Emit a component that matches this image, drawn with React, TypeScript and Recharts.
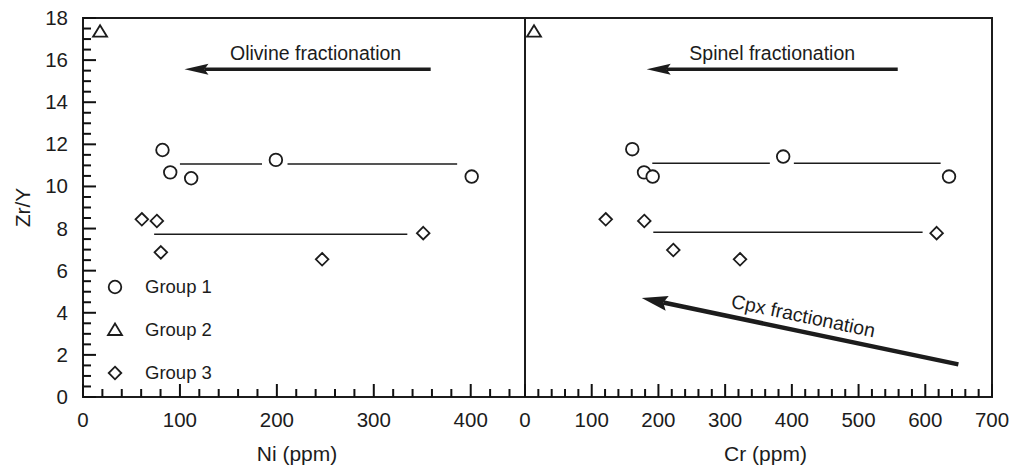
import React from 'react'
import {
  ScatterChart,
  Scatter,
  XAxis,
  YAxis,
  ReferenceLine,
  ReferenceArea,
  Legend,
} from 'recharts'

const INK = '#1c1c1c'
const FONT = '"Liberation Sans", Arial, Helvetica, sans-serif'

// --- Ni panel (left) ---
const group1Ni = [
  { x: 82, y: 11.73 },
  { x: 90, y: 10.67 },
  { x: 111.6, y: 10.39 },
  { x: 199, y: 11.26 },
  { x: 401, y: 10.47 },
]
const group2Ni = [{ x: 17.6, y: 17.35 }]
const group3Ni = [
  { x: 60.7, y: 8.44 },
  { x: 76.2, y: 8.36 },
  { x: 80.3, y: 6.87 },
  { x: 246.7, y: 6.54 },
  { x: 351, y: 7.78 },
]
const meanLinesNi = [
  [{ x: 100, y: 11.07 }, { x: 184.7, y: 11.07 }],
  [{ x: 211, y: 11.07 }, { x: 386, y: 11.07 }],
  [{ x: 73.4, y: 7.73 }, { x: 334.6, y: 7.73 }],
]
const olivineArrow = [{ x: 358.7, y: 15.57 }, { x: 104.7, y: 15.57 }]

// --- Cr panel (right) ---
const group1Cr = [
  { x: 160.8, y: 11.77 },
  { x: 178.4, y: 10.67 },
  { x: 191.4, y: 10.47 },
  { x: 387, y: 11.42 },
  { x: 635.6, y: 10.47 },
]
const group2Cr = [{ x: 13.5, y: 17.35 }]
const group3Cr = [
  { x: 121, y: 8.44 },
  { x: 178.8, y: 8.36 },
  { x: 222.3, y: 6.98 },
  { x: 322.3, y: 6.54 },
  { x: 617, y: 7.78 },
]
const meanLinesCr = [
  [{ x: 190.8, y: 11.1 }, { x: 367, y: 11.1 }],
  [{ x: 403, y: 11.1 }, { x: 623, y: 11.1 }],
  [{ x: 192.3, y: 7.82 }, { x: 596, y: 7.82 }],
]
const spinelArrow = [{ x: 558.7, y: 15.57 }, { x: 182.4, y: 15.57 }]
const cpxArrow = [{ x: 649.6, y: 1.55 }, { x: 175, y: 4.7 }]

// --- ticks ---
const niMajorTicks = [0, 100, 200, 300, 400]
const crMajorTicks = [0, 100, 200, 300, 400, 500, 600, 700]
const zrYMajorTicks = [0, 2, 4, 6, 8, 10, 12, 14, 16, 18]

const niTicks = [
  0, 20, 40, 60, 80, 100, 120, 140, 160, 180, 200, 220, 240, 260, 280, 300, 320, 340, 360, 380,
  400, 420, 440,
]
const crTicks = [
  0, 20, 40, 60, 80, 100, 120, 140, 160, 180, 200, 220, 240, 260, 280, 300, 320, 340, 360, 380,
  400, 420, 440, 460, 480, 500, 520, 540, 560, 580, 600, 620, 640, 660, 680, 700,
]
const zrYTicks = [
  0, 0.5, 1, 1.5, 2, 2.5, 3, 3.5, 4, 4.5, 5, 5.5, 6, 6.5, 7, 7.5, 8, 8.5, 9, 9.5, 10, 10.5, 11,
  11.5, 12, 12.5, 13, 13.5, 14, 14.5, 15, 15.5, 16, 16.5, 17, 17.5, 18,
]

type Kind = 'circle' | 'triangle' | 'diamond'
const kindOf: Record<string, Kind> = {
  'Group 1': 'circle',
  'Group 2': 'triangle',
  'Group 3': 'diamond',
}

function Marker({ kind, cx, cy }: { kind: Kind; cx: number; cy: number }) {
  const common = { fill: '#fff', stroke: INK, strokeWidth: 1.8 }
  if (kind === 'circle') return <circle cx={cx} cy={cy} r={6.3} {...common} />
  if (kind === 'triangle')
    return <polygon points={`${cx},${cy - 6.5} ${cx + 7},${cy + 5} ${cx - 7},${cy + 5}`} {...common} />
  return (
    <polygon
      points={`${cx},${cy - 6.3} ${cx + 6.3},${cy} ${cx},${cy + 6.3} ${cx - 6.3},${cy}`}
      {...common}
    />
  )
}

const shapeFor = (kind: Kind) => (p: any) => <Marker kind={kind} cx={p.cx} cy={p.cy} />

// inward tick marks, labels on the major ones
function XTick(props: any) {
  const { x, y, payload, majors } = props
  const major = majors.includes(payload.value)
  return (
    <g>
      <line x1={x} x2={x} y1={y} y2={y - (major ? 13 : 8)} stroke="#111" strokeWidth={2} />
      {major && (
        <text x={x} y={y + 30} textAnchor="middle" fontSize={20.5} fill={INK}>
          {payload.value}
        </text>
      )}
    </g>
  )
}

function YTick(props: any) {
  const { x, y, payload } = props
  const major = zrYMajorTicks.includes(payload.value)
  return (
    <g>
      <line x1={x} x2={x + (major ? 13 : 8)} y1={y} y2={y} stroke="#111" strokeWidth={2} />
      {major && (
        <text x={x - 15} y={y + 7} textAnchor="end" fontSize={20.5} fill={INK}>
          {payload.value}
        </text>
      )}
    </g>
  )
}

function arrowShape(label: string, o: { head: number; half: number; shaft: number; dx: number; rise: number }) {
  return (p: any) => {
    const { x1, y1, x2, y2 } = p
    const len = Math.hypot(x2 - x1, y2 - y1)
    const ux = (x2 - x1) / len
    const uy = (y2 - y1) / len
    const bx = x2 - ux * o.head
    const by = y2 - uy * o.head
    const nx = -uy
    const ny = ux
    const notchX = bx + ux * 4
    const notchY = by + uy * 4
    const mx = (x1 + x2) / 2 + o.dx
    const my = (y1 + y2) / 2
    const deg = (Math.atan2(y1 - y2, x1 - x2) * 180) / Math.PI
    return (
      <g>
        <line x1={x1} y1={y1} x2={notchX} y2={notchY} stroke={INK} strokeWidth={o.shaft} />
        <polygon
          points={`${x2},${y2} ${bx + nx * o.half},${by + ny * o.half} ${notchX},${notchY} ${bx - nx * o.half},${by - ny * o.half}`}
          fill={INK}
        />
        <text
          transform={`translate(${mx},${my}) rotate(${deg})`}
          x={0}
          y={-o.rise}
          textAnchor="middle"
          fontSize={19.5}
          fill={INK}
        >
          {label}
        </text>
      </g>
    )
  }
}

function GroupLegend({ payload }: any) {
  return (
    <div>
      {(payload || [])
        .filter((e: any) => kindOf[e.value])
        .map((e: any) => (
          <div key={e.value} style={{ display: 'flex', alignItems: 'center', height: 43 }}>
            <svg width={20} height={20}>
              <Marker kind={kindOf[e.value]} cx={10} cy={10} />
            </svg>
            <span style={{ marginLeft: 20, fontSize: 18.5, color: INK, fontFamily: FONT }}>{e.value}</span>
          </div>
        ))}
    </div>
  )
}

const axisTitle = (text: string, shift: number) => (p: any) => {
  const vb = p.viewBox
  return (
    <text x={vb.x + vb.width / 2 + shift} y={vb.y + 64} textAnchor="middle" fontSize={21} fill={INK}>
      {text}
    </text>
  )
}

const yTitle = (p: any) => {
  const vb = p.viewBox
  const cx = vb.x + 22
  const cy = vb.y + vb.height / 2
  return (
    <text
      x={cx}
      y={cy}
      transform={`rotate(-90 ${cx} ${cy})`}
      textAnchor="middle"
      dominantBaseline="central"
      fontSize={21}
      fill={INK}
    >
      Zr/Y
    </text>
  )
}

const axisStroke = { stroke: INK, strokeWidth: 2 }

export default function App() {
  return (
    <div style={{ position: 'relative', width: 1012, height: 467, fontFamily: FONT, background: '#fff' }}>
      <style>{`body{margin:0;}`}</style>

      {/* Ni panel */}
      <div style={{ position: 'absolute', left: 0, top: 0 }}>
        <ScatterChart width={530} height={467} margin={{ top: 18, right: 5, bottom: 0, left: 0 }}>
          <XAxis
            type="number"
            dataKey="x"
            domain={[0, 456]}
            ticks={niTicks}
            interval={0}
            tickSize={0}
            tickMargin={0}
            axisLine={axisStroke}
            tick={(p: any) => <XTick {...p} majors={niMajorTicks} />}
            height={70}
            label={{ content: axisTitle('Ni (ppm)', -7) }}
          />
          <YAxis
            type="number"
            dataKey="y"
            domain={[0, 18]}
            ticks={zrYTicks}
            interval={0}
            tickSize={0}
            tickMargin={0}
            axisLine={axisStroke}
            tick={(p: any) => <YTick {...p} />}
            width={83}
            label={{ content: yTitle }}
          />
          <ReferenceArea x1={0} x2={456} y1={0} y2={18} stroke={INK} strokeWidth={2} fill="none" fillOpacity={0} ifOverflow="visible" />
          {meanLinesNi.map((seg, i) => (
            <ReferenceLine key={`ni${i}`} segment={seg} stroke={INK} strokeWidth={1.5} />
          ))}
          <ReferenceLine
            segment={olivineArrow}
            shape={arrowShape('Olivine fractionation', { head: 24, half: 5.5, shaft: 3.5, dx: 8, rise: 9 })}
          />
          <Scatter name="Group 1" data={group1Ni} shape={shapeFor('circle')} isAnimationActive={false} />
          <Scatter name="Group 2" data={group2Ni} shape={shapeFor('triangle')} isAnimationActive={false} />
          <Scatter name="Group 3" data={group3Ni} shape={shapeFor('diamond')} isAnimationActive={false} />
          <Legend
            layout="vertical"
            align="center"
            verticalAlign="middle"
            content={<GroupLegend />}
            wrapperStyle={{ left: 105, top: 265.5, width: 160, height: 130 }}
          />
        </ScatterChart>
      </div>

      {/* Cr panel */}
      <div style={{ position: 'absolute', left: 500, top: 0 }}>
        <ScatterChart width={512} height={467} margin={{ top: 18, right: 20, bottom: 0, left: 25 }}>
          <XAxis
            type="number"
            dataKey="x"
            domain={[0, 700]}
            ticks={crTicks}
            interval={0}
            tickSize={0}
            tickMargin={0}
            axisLine={axisStroke}
            tick={(p: any) => <XTick {...p} majors={crMajorTicks} />}
            height={70}
            label={{ content: axisTitle('Cr (ppm)', 7) }}
          />
          <YAxis type="number" dataKey="y" domain={[0, 18]} hide />
          <ReferenceArea x1={0} x2={700} y1={0} y2={18} stroke={INK} strokeWidth={2} fill="none" fillOpacity={0} ifOverflow="visible" />
          {meanLinesCr.map((seg, i) => (
            <ReferenceLine key={`cr${i}`} segment={seg} stroke={INK} strokeWidth={1.5} />
          ))}
          <ReferenceLine
            segment={spinelArrow}
            shape={arrowShape('Spinel fractionation', { head: 24, half: 5.5, shaft: 3.5, dx: 0, rise: 9 })}
          />
          <ReferenceLine
            segment={cpxArrow}
            shape={arrowShape('Cpx fractionation', { head: 26, half: 7.5, shaft: 4.5, dx: 0, rise: 9 })}
          />
          <Scatter name="Group 1" data={group1Cr} shape={shapeFor('circle')} isAnimationActive={false} />
          <Scatter name="Group 2" data={group2Cr} shape={shapeFor('triangle')} isAnimationActive={false} />
          <Scatter name="Group 3" data={group3Cr} shape={shapeFor('diamond')} isAnimationActive={false} />
        </ScatterChart>
      </div>
    </div>
  )
}
